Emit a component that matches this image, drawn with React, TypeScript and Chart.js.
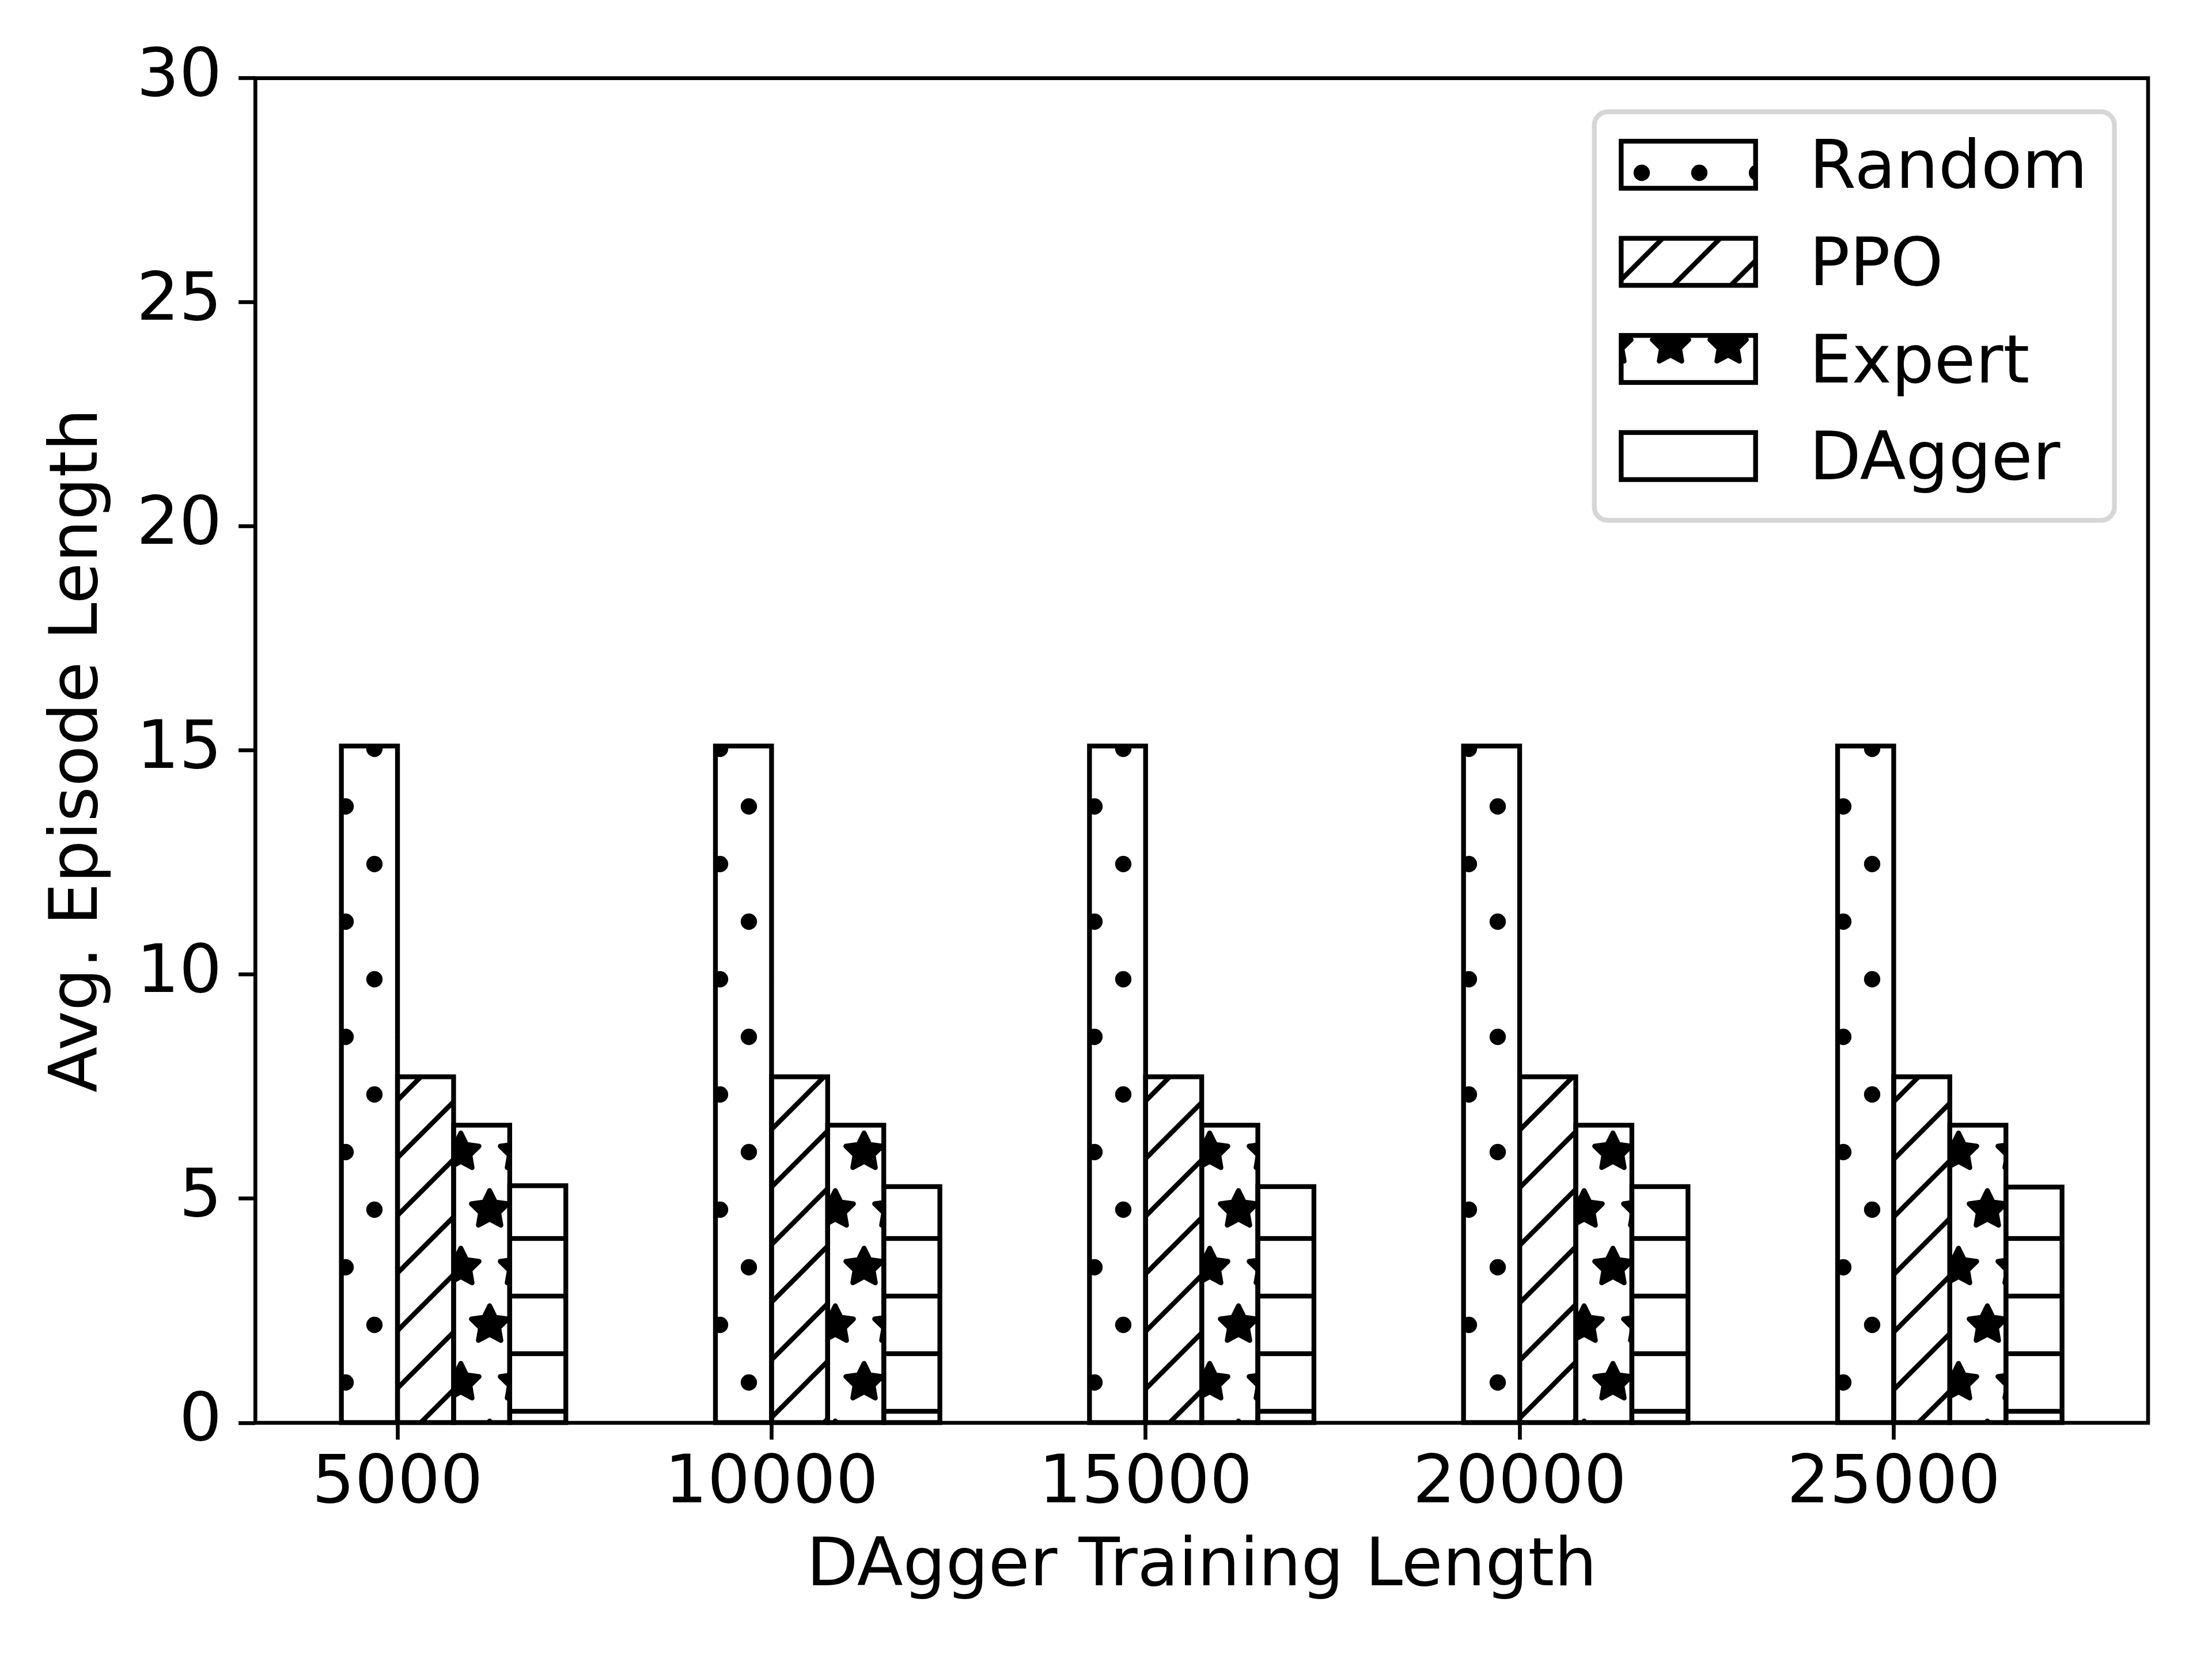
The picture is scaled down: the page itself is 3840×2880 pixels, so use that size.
import React, { useEffect, useRef } from 'react';
import { Chart, registerables } from 'chart.js';

Chart.register(...registerables);

// ---------------- data ----------------
const CATEGORIES = [5000, 10000, 15000, 20000, 25000];
const SERIES_NAMES = ['Random', 'PPO', 'Expert', 'DAgger'];
const RANDOM = [15.1, 15.1, 15.1, 15.1, 15.1];
const PPO = [7.72, 7.72, 7.72, 7.72, 7.72];
const EXPERT = [6.64, 6.64, 6.64, 6.64, 6.64];
const DAGGER = [5.29, 5.27, 5.27, 5.27, 5.26];
const Y_TICKS = [0, 5, 10, 15, 20, 25, 30];
const X_TITLE = 'DAgger Training Length';
const Y_TITLE = 'Avg. Episode Length';
const BAR_WIDTH = 750; // in x-axis units

// ---------------- style ----------------
const DPI = 600;
const PT = DPI / 72;
const FONT_PX = 14 * PT;
const LW = 1 * PT; // bar edge & hatch line width
const SPINE = 0.8 * PT;
const TICK_LEN = 3.5 * PT;
const FAMILY = "'DejaVu Sans', 'Liberation Sans', sans-serif";
const H = 100; // hatch unit (1/6 inch at 600 dpi)

function makeTile(w: number, h: number, draw: (g: CanvasRenderingContext2D) => void) {
  const c = document.createElement('canvas');
  c.width = w;
  c.height = h;
  const g = c.getContext('2d')!;
  draw(g);
  return c;
}

const SHAPE_POS = [
  [0, 0],
  [H, 0],
  [0, 2 * H],
  [H, 2 * H],
  [H / 2, H],
];

function dotsPattern(ctx: CanvasRenderingContext2D) {
  const tile = makeTile(H, 2 * H, (g) => {
    g.fillStyle = '#000';
    for (const [x, y] of SHAPE_POS) {
      g.beginPath();
      g.arc(x, y, 0.1 * H + LW / 2, 0, Math.PI * 2);
      g.fill();
    }
  });
  return ctx.createPattern(tile, 'repeat')!;
}

function starsPattern(ctx: CanvasRenderingContext2D) {
  const tile = makeTile(H, 2 * H, (g) => {
    g.fillStyle = '#000';
    g.strokeStyle = '#000';
    g.lineWidth = LW;
    g.lineJoin = 'round';
    const R = H / 3;
    for (const [cx, cy] of SHAPE_POS) {
      g.beginPath();
      for (let i = 0; i < 10; i++) {
        const a = Math.PI / 2 + (i * Math.PI) / 5;
        const r = i % 2 === 0 ? R : R * 0.5;
        const px = cx + r * Math.cos(a);
        const py = cy - r * Math.sin(a);
        if (i === 0) g.moveTo(px, py);
        else g.lineTo(px, py);
      }
      g.closePath();
      g.fill();
      g.stroke();
    }
  });
  return ctx.createPattern(tile, 'repeat')!;
}

function diagPattern(ctx: CanvasRenderingContext2D) {
  const tile = makeTile(H, H, (g) => {
    g.strokeStyle = '#000';
    g.lineWidth = LW;
    g.lineCap = 'butt';
    for (const c of [0, H, 2 * H]) {
      g.beginPath();
      g.moveTo(c + H, -H);
      g.lineTo(c - 2 * H, 2 * H);
      g.stroke();
    }
  });
  return ctx.createPattern(tile, 'repeat')!;
}

function horizPattern(ctx: CanvasRenderingContext2D) {
  const tile = makeTile(H, H, (g) => {
    g.fillStyle = '#000';
    g.fillRect(0, H / 2 - LW / 2, H, LW);
  });
  return ctx.createPattern(tile, 'repeat')!;
}

const outlinePlugin = {
  id: 'mplOutline',
  afterDatasetsDraw(chart: any) {
    const ctx: CanvasRenderingContext2D = chart.ctx;
    ctx.save();
    ctx.strokeStyle = '#000';
    ctx.lineWidth = LW;
    ctx.lineJoin = 'miter';
    chart.data.datasets.forEach((_ds: any, i: number) => {
      const meta = chart.getDatasetMeta(i);
      meta.data.forEach((el: any) => {
        const { x, y, base, width } = el.getProps(['x', 'y', 'base', 'width'], true);
        ctx.strokeRect(x - width / 2, Math.min(y, base), width, Math.abs(base - y));
      });
    });
    const { left, top, right, bottom } = chart.chartArea;
    ctx.lineWidth = SPINE;
    ctx.lineJoin = 'miter';
    ctx.strokeRect(left, top, right - left, bottom - top);
    ctx.restore();
  },
};

const legendPlugin = {
  id: 'mplLegend',
  afterDraw(chart: any) {
    const ctx: CanvasRenderingContext2D = chart.ctx;
    const { right, top } = chart.chartArea;
    const fs = FONT_PX;
    const pad = 0.4 * fs;
    const axPad = 0.5 * fs;
    const handleW = 2 * fs;
    const handleH = 0.7 * fs;
    const textPad = 0.8 * fs;
    const rowH = 0.945 * fs;
    const labelSp = 0.5 * fs;
    ctx.save();
    ctx.font = `${fs}px ${FAMILY}`;
    const names: string[] = chart.data.datasets.map((d: any) => d.label);
    const textW = Math.max(...names.map((n) => ctx.measureText(n).width));
    const frameW = 2 * pad + handleW + textPad + textW;
    const frameH = 2 * pad + names.length * rowH + (names.length - 1) * labelSp;
    const x0 = right - axPad - frameW;
    const y0 = top + axPad;
    ctx.beginPath();
    (ctx as any).roundRect(x0, y0, frameW, frameH, 0.2 * fs);
    ctx.fillStyle = 'rgba(255,255,255,0.8)';
    ctx.fill();
    ctx.lineWidth = LW;
    ctx.strokeStyle = 'rgba(204,204,204,0.8)';
    ctx.stroke();
    names.forEach((name, i) => {
      const rowTop = y0 + pad + i * (rowH + labelSp);
      const cy = rowTop + 0.388 * fs;
      const px = x0 + pad;
      ctx.fillStyle = '#fff';
      ctx.fillRect(px, cy - handleH / 2, handleW, handleH);
      ctx.fillStyle = chart.data.datasets[i].backgroundColor;
      ctx.fillRect(px, cy - handleH / 2, handleW, handleH);
      ctx.strokeStyle = '#000';
      ctx.lineWidth = LW;
      ctx.strokeRect(px, cy - handleH / 2, handleW, handleH);
      ctx.fillStyle = '#000';
      ctx.textAlign = 'left';
      ctx.textBaseline = 'alphabetic';
      ctx.fillText(name, px + handleW + textPad, cy + 0.346 * fs);
    });
    ctx.restore();
  },
};

export default function App() {
  const ref = useRef<HTMLCanvasElement>(null);

  useEffect(() => {
    const canvas = ref.current!;
    const ctx = canvas.getContext('2d')!;
    const patterns = [dotsPattern(ctx), diagPattern(ctx), starsPattern(ctx), horizPattern(ctx)];
    const seriesValues = [RANDOM, PPO, EXPERT, DAGGER];

    const datasets = SERIES_NAMES.map((name, k) => ({
      label: name,
      data: CATEGORIES.map((c, i) => ({ x: c + (k - 0.5) * BAR_WIDTH, y: seriesValues[k][i] })),
      backgroundColor: patterns[k],
      borderWidth: 0,
      inflateAmount: 0,
      grouped: false,
      categoryPercentage: 1,
      barPercentage: 1,
    }));

    const lo = CATEGORIES[0] - BAR_WIDTH;
    const hi = CATEGORIES[CATEGORIES.length - 1] + 3 * BAR_WIDTH;
    const margin = 0.05 * (hi - lo);
    const font = { family: FAMILY, size: FONT_PX, lineHeight: 1.2 };

    const chart = new Chart(canvas, {
      type: 'bar',
      data: { datasets: datasets as any },
      options: {
        responsive: false,
        animation: false,
        devicePixelRatio: 1,
        events: [],
        layout: { padding: { left: 0, top: 135.7, right: 111, bottom: 0 } },
        plugins: { legend: { display: false }, tooltip: { enabled: false } },
        scales: {
          x: {
            type: 'linear',
            min: lo - margin,
            max: hi + margin,
            offset: false,
            afterBuildTicks: (s: any) => {
              s.ticks = CATEGORIES.map((v) => ({ value: v }));
            },
            afterFit: (s: any) => {
              s.height = 410;
            },
            grid: {
              display: true,
              drawOnChartArea: false,
              drawTicks: true,
              tickLength: TICK_LEN,
              tickWidth: SPINE,
              tickColor: '#000',
              offset: false,
            },
            border: { display: false },
            ticks: {
              font,
              color: '#000',
              padding: 8.1,
              maxRotation: 0,
              autoSkip: false,
              callback: (v: any) => String(v),
            },
            title: {
              display: true,
              text: X_TITLE,
              font,
              color: '#000',
              padding: { top: 0, bottom: 88.7 },
            },
          },
          y: {
            type: 'linear',
            min: Y_TICKS[0],
            max: Y_TICKS[Y_TICKS.length - 1],
            afterBuildTicks: (s: any) => {
              s.ticks = Y_TICKS.map((v) => ({ value: v }));
            },
            afterFit: (s: any) => {
              s.width = 443.3;
            },
            grid: {
              display: true,
              drawOnChartArea: false,
              drawTicks: true,
              tickLength: TICK_LEN,
              tickWidth: SPINE,
              tickColor: '#000',
            },
            border: { display: false },
            ticks: {
              font,
              color: '#000',
              padding: 28.8,
              callback: (v: any) => String(v),
            },
            title: {
              display: true,
              text: Y_TITLE,
              font,
              color: '#000',
              padding: { top: 67.9, bottom: 0 },
            },
          },
        },
      } as any,
      plugins: [outlinePlugin, legendPlugin],
    });

    return () => chart.destroy();
  }, []);

  return (
    <div style={{ position: 'absolute', left: 0, top: 0, width: 3840, height: 2880, background: '#fff' }}>
      <canvas ref={ref} width={3840} height={2880} style={{ display: 'block', width: 3840, height: 2880 }} />
    </div>
  );
}
